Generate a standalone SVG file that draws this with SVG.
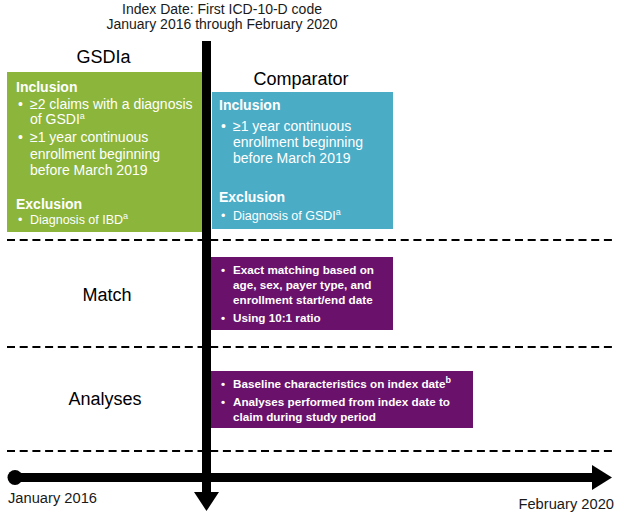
<svg xmlns="http://www.w3.org/2000/svg" width="624" height="531" viewBox="0 0 624 531">
<style>
text{font-family:"Liberation Sans",Arial,sans-serif;}
.hd{font-size:14px;fill:#1a1a1a;text-anchor:middle;}
.lbl{font-size:18px;fill:#000;text-anchor:middle;}
.bh{font-size:14px;font-weight:bold;fill:#fff;}
.bt{font-size:14px;fill:#fff;}
.bs{font-size:12.5px;fill:#fff;}
.pt{font-size:11.7px;font-weight:bold;fill:#fff;}
.sup{font-size:9px;}
.dash{stroke:#000;stroke-width:2;stroke-dasharray:8 4.7;fill:none;}
.tl{font-size:14.7px;fill:#1a1a1a;}
</style>
<rect width="624" height="531" fill="#fff"/>

<g id="header">
<text class="hd" x="222" y="14">Index Date: First ICD-10-D code</text>
<text class="hd" x="222" y="29">January 2016 through February 2020</text>
</g>

<g id="connectors">
<line class="dash" x1="7" y1="240" x2="616" y2="240"/>
<line class="dash" x1="7" y1="347" x2="616" y2="347"/>
<line class="dash" x1="7" y1="451" x2="616" y2="451"/>
<line x1="15" y1="477.5" x2="594" y2="477.5" stroke="#000" stroke-width="9"/>
<circle cx="15" cy="477.5" r="7.5" fill="#000"/>
<polygon points="592,465 612,477.5 592,490" fill="#000"/>
<line x1="206.5" y1="41" x2="206.5" y2="494" stroke="#000" stroke-width="9"/>
<polygon points="194,492 219,492 206.5,511" fill="#000"/>
</g>

<g id="gsdia">
<text class="lbl" x="103.5" y="63">GSDIa</text>
<rect x="7" y="72" width="195" height="160" fill="#8BB53B"/>
<text class="bh" x="16" y="92">Inclusion</text>
<text class="bt" x="18" y="109">•</text>
<text class="bt" x="30" y="109">≥2 claims with a diagnosis</text>
<text class="bt" x="30" y="124">of GSDI<tspan class="sup" dy="-5">a</tspan></text>
<text class="bt" x="18" y="142">•</text>
<text class="bt" x="30" y="142">≥1 year continuous</text>
<text class="bt" x="30" y="159">enrollment beginning</text>
<text class="bt" x="30" y="175">before March 2019</text>
<text class="bh" x="16" y="209">Exclusion</text>
<text class="bs" x="18" y="224">•</text>
<text class="bs" x="30" y="224">Diagnosis of IBD<tspan class="sup" dy="-5">a</tspan></text>
</g>

<g id="comparator">
<text class="lbl" x="301" y="85">Comparator</text>
<rect x="212" y="92" width="181" height="137" fill="#4BACC6"/>
<text class="bh" x="219" y="110">Inclusion</text>
<text class="bt" x="221" y="131">•</text>
<text class="bt" x="233" y="131">≥1 year continuous</text>
<text class="bt" x="233" y="147">enrollment beginning</text>
<text class="bt" x="233" y="163">before March 2019</text>
<text class="bh" x="219" y="202">Exclusion</text>
<text class="bs" x="221" y="220">•</text>
<text class="bs" x="233" y="220">Diagnosis of GSDI<tspan class="sup" dy="-5">a</tspan></text>
</g>

<g id="match">
<text class="lbl" x="107" y="301">Match</text>
<rect x="211" y="257" width="182" height="73" fill="#69116B"/>
<text class="pt" x="221" y="274">•</text>
<text class="pt" x="233" y="274">Exact matching based on</text>
<text class="pt" x="233" y="289">age, sex, payer type, and</text>
<text class="pt" x="233" y="304">enrollment start/end date</text>
<text class="pt" x="221" y="322">•</text>
<text class="pt" x="233" y="322">Using 10:1 ratio</text>
</g>

<g id="analyses">
<text class="lbl" x="105" y="405">Analyses</text>
<rect x="211" y="371" width="262" height="57" fill="#69116B"/>
<text class="pt" x="221" y="388">•</text>
<text class="pt" x="233" y="388">Baseline characteristics on index date<tspan class="sup" dy="-5">b</tspan></text>
<text class="pt" x="221" y="406">•</text>
<text class="pt" x="233" y="406">Analyses performed from index date to</text>
<text class="pt" x="233" y="421">claim during study period</text>
</g>

<g id="timeline">
<text class="tl" x="8" y="503">January 2016</text>
<text class="tl" x="614" y="509" text-anchor="end">February 2020</text>
</g>
</svg>
